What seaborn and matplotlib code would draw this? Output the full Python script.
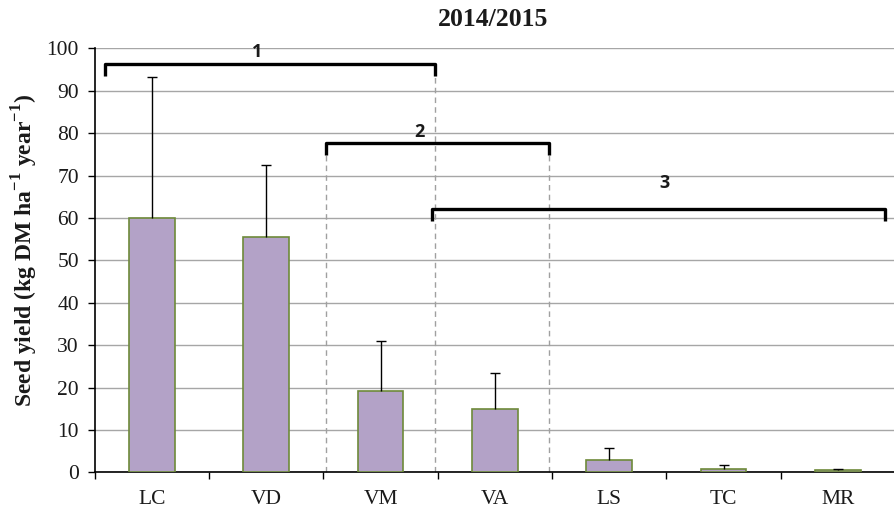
import numpy as np
import pandas as pd
import matplotlib
matplotlib.use("Agg")
import matplotlib.pyplot as plt
import seaborn as sns

# Seed yield per species, season 2014/2015
species = ["LC", "VD", "VM", "VA", "LS", "TC", "MR"]
seed_yield = [60.0, 55.5, 19.2, 14.9, 2.9, 0.9, 0.45]
upper_err = [33.2, 17.0, 11.8, 8.5, 2.9, 0.8, 0.4]

# Grouping brackets: label, span on the category axis, height, label position
groups = ["1", "2", "3"]
group_x0 = [-0.41, 1.52, 2.45]
group_x1 = [2.48, 3.47, 6.41]
group_level = [96.2, 77.7, 62.1]
label_x = [0.92, 2.34, 4.48]
label_y = [99.2, 80.3, 68.3]

sns.set_theme(style="white")
plt.rcParams["font.family"] = ["Liberation Serif", "DejaVu Serif"]

fig = plt.figure(figsize=(8.95, 5.07), dpi=100)
ax = fig.add_axes([0.106, 0.0684, 0.894, 0.8363])

df = pd.DataFrame({"species": species, "yield": seed_yield})
sns.barplot(data=df, x="species", y="yield", color="#B3A2C7", saturation=1,
            edgecolor="#6E8A3A", linewidth=1.2, width=0.4, errorbar=None, ax=ax,
            zorder=3)

xs = np.arange(len(species))
eb = ax.errorbar(xs, seed_yield, yerr=[np.zeros(len(species)), upper_err],
                 fmt="none", ecolor="black", elinewidth=1.0, capsize=3.3,
                 capthick=1.0, zorder=4)
# upper caps only
eb[1][0].set_visible(False)

ax.set_ylim(0, 100)
ax.set_xlim(-0.5, 6.434)
ax.set_yticks(np.arange(0, 101, 10))
ax.yaxis.grid(True, color="#A6A6A6", linewidth=1.0, zorder=0)
ax.set_axisbelow(True)
ax.set_xticks(xs)
ax.set_xticklabels(species)
ax.set_xticks(np.arange(-0.5, 7.0, 1.0), minor=True)
ax.tick_params(axis="x", which="major", length=0, pad=12.5, labelsize=15.5,
               labelcolor="#1a1a1a")
ax.tick_params(axis="x", which="minor", length=5, width=1.0, color="black",
               direction="out", bottom=True)
ax.tick_params(axis="y", length=5, width=1.0, color="black", direction="out",
               left=True, labelsize=15.5, pad=6.5, labelcolor="#1a1a1a")
for s in ["top", "right"]:
    ax.spines[s].set_visible(False)
for s in ["left", "bottom"]:
    ax.spines[s].set_color("black")
    ax.spines[s].set_linewidth(1.2)

ax.set_xlabel("")
ax.set_ylabel("")
fig.text(25 / 895, 1 - 250 / 507,
         "Seed yield (kg DM ha$^{\\mathregular{-1}}$ year$^{\\mathregular{-1}}$)",
         rotation=90, ha="center", va="center", fontsize=17, fontweight="bold",
         color="#1a1a1a")
fig.text(493.5 / 895, 1 - 19 / 507, "2014/2015", ha="center", va="center",
         fontsize=18.5, fontweight="bold", color="#1a1a1a")

# Dashed separators between the groups
for xv, top in zip([1.52, 2.48, 3.47], [74.8, 93.3, 74.8]):
    ax.plot([xv, xv], [0, top], color="#A0A0A0", linestyle=(0, (4, 3)),
            linewidth=1.0, zorder=2, clip_on=False)

# Brackets with labels
for lab, x0, x1, lvl, lx, ly in zip(groups, group_x0, group_x1, group_level,
                                    label_x, label_y):
    ax.plot([x0, x0, x1, x1], [lvl - 2.8, lvl, lvl, lvl - 2.8], color="black",
            linewidth=2.4, solid_joinstyle="round", solid_capstyle="butt",
            zorder=5, clip_on=False)
    ax.text(lx, ly, lab, ha="center", va="center", fontsize=13,
            fontweight="bold", family=["Open Sans", "DejaVu Sans"],
            color="#1a1a1a", zorder=6)

fig.savefig("out.png", dpi=100)
